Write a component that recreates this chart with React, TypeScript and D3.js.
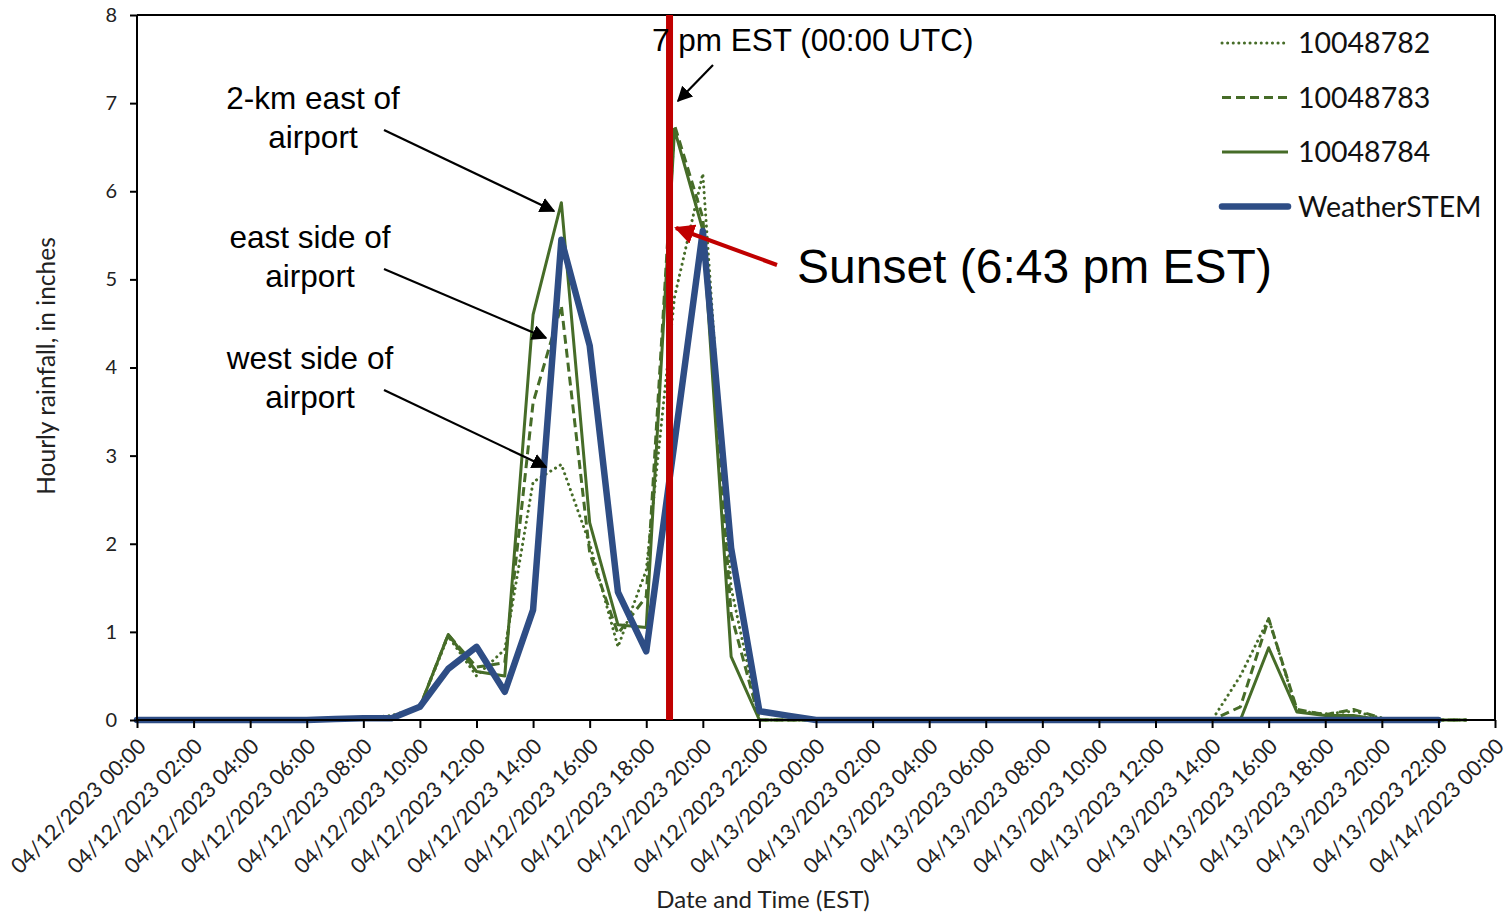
import React, { useEffect, useRef } from 'react';
import * as d3 from 'd3';

// hourly rainfall, 04/12/2023 00:00 EST onward (one value per hour)
const gauge10048782 = [
  0, 0, 0, 0, 0, 0, 0, 0.01, 0.02, 0.05, 0.15, 0.95, 0.5, 0.8, 2.7, 2.9, 2.0, 0.83, 1.7, 4.8, 6.2, 1.5, 0, 0,
  0, 0, 0, 0, 0, 0, 0, 0, 0, 0, 0, 0, 0, 0, 0, 0.5, 1.15, 0.1, 0.07, 0.1, 0.02, 0, 0, 0,
];
const gauge10048783 = [
  0, 0, 0, 0, 0, 0, 0, 0.01, 0.01, 0.03, 0.15, 0.97, 0.6, 0.65, 3.6, 4.7, 1.9, 0.98, 1.4, 6.75, 5.7, 1.2, 0, 0,
  0, 0, 0, 0, 0, 0, 0, 0, 0, 0, 0, 0, 0, 0, 0, 0.15, 1.15, 0.12, 0.06, 0.12, 0.02, 0, 0, 0,
];
const gauge10048784 = [
  0, 0, 0, 0, 0, 0, 0, 0.01, 0.01, 0.02, 0.15, 0.97, 0.55, 0.5, 4.6, 5.87, 2.24, 1.08, 1.05, 6.7, 5.56, 0.72, 0, 0,
  0, 0, 0, 0, 0, 0, 0, 0, 0, 0, 0, 0, 0, 0, 0, 0, 0.82, 0.09, 0.05, 0.05, 0, 0, 0, 0,
];
const weatherStem = [
  0, 0, 0, 0, 0, 0, 0, 0.01, 0.02, 0.02, 0.15, 0.58, 0.83, 0.32, 1.25, 5.45, 4.25, 1.45, 0.78, 3.15, 5.55, 1.95, 0.1, 0.05,
  0, 0, 0, 0, 0, 0, 0, 0, 0, 0, 0, 0, 0, 0, 0, 0, 0, 0, 0, 0, 0, 0, 0,
];

const yTicks = [0, 1, 2, 3, 4, 5, 6, 7, 8];
const seriesNames = ['10048782', '10048783', '10048784', 'WeatherSTEM'];

const start = new Date(Date.UTC(2023, 3, 12, 0));
const end = new Date(Date.UTC(2023, 3, 14, 0));
const sunset = new Date(Date.UTC(2023, 3, 12, 18, 43));

const App: React.FC = () => {
  const svgRef = useRef<SVGSVGElement>(null);

  useEffect(() => {
    if (!svgRef.current) return;
    const svg = d3.select(svgRef.current);
    svg.selectAll('*').remove();

    const width = 1511;
    const height = 914;
    const margin = { top: 15, right: 16, bottom: 194, left: 137 };

    const x = d3.scaleUtc().domain([start, end]).range([margin.left, width - margin.right]);
    const y = d3.scaleLinear().domain([0, 8]).range([height - margin.bottom, margin.top]);

    const green = '#466c28';
    const blue = '#2e4d85';
    const labelFont = 'Lato, "Open Sans", sans-serif';
    const noteFont = '"Liberation Sans", Arial, sans-serif';

    const hourTime = (i: number) => d3.utcHour.offset(start, i);

    // frame
    svg.append('line')
      .attr('x1', x(start)).attr('x2', x(end))
      .attr('y1', y(8)).attr('y2', y(8))
      .attr('stroke', '#000').attr('stroke-width', 2);
    svg.append('line')
      .attr('x1', x(end)).attr('x2', x(end))
      .attr('y1', y(8)).attr('y2', y(0))
      .attr('stroke', '#000').attr('stroke-width', 2);

    const line = d3.line<number>()
      .x((_, i) => x(hourTime(i)))
      .y(d => y(d));

    const series = [
      { data: gauge10048782, color: green, width: 3, dash: '0.1,5.5', cap: 'round' },
      { data: gauge10048783, color: green, width: 3, dash: '9,5', cap: 'butt' },
      { data: gauge10048784, color: green, width: 3, dash: null, cap: 'butt' },
      { data: weatherStem, color: blue, width: 6.5, dash: null, cap: 'round' },
    ];

    series.forEach(s => {
      svg.append('path')
        .datum(s.data)
        .attr('fill', 'none')
        .attr('stroke', s.color)
        .attr('stroke-width', s.width)
        .attr('stroke-dasharray', s.dash)
        .attr('stroke-linecap', s.cap)
        .attr('stroke-linejoin', 'round')
        .attr('d', line);
    });

    // axes
    const xAxis = svg.append('g')
      .attr('transform', `translate(0,${y(0)})`)
      .call(d3.axisBottom(x)
        .ticks(d3.utcHour.every(2))
        .tickSize(8)
        .tickFormat(d => d3.utcFormat('%m/%d/%Y %H:%M')(d as Date)));
    xAxis.select('.domain').attr('stroke-width', 2).attr('d', `M${x(start)},0H${x(end)}`);
    xAxis.selectAll('.tick line').attr('stroke-width', 2);
    xAxis.selectAll('.tick text')
      .attr('font-family', labelFont)
      .attr('font-size', 21.5)
      .attr('fill', '#222')
      .attr('text-anchor', 'end')
      .attr('dx', 0)
      .attr('dy', 0)
      .attr('transform', 'translate(2,20) rotate(-45)');

    const yAxis = svg.append('g')
      .attr('transform', `translate(${margin.left},0)`)
      .call(d3.axisLeft(y).tickValues(yTicks).tickSize(7).tickFormat(d3.format('d')));
    yAxis.select('.domain').attr('stroke-width', 2).attr('d', `M0,${y(8)}V${y(0)}`);
    yAxis.selectAll('.tick line').attr('stroke-width', 2);
    yAxis.selectAll('.tick text')
      .attr('font-family', labelFont)
      .attr('font-size', 20)
      .attr('fill', '#222')
      .attr('x', -20);

    // axis titles
    svg.append('text')
      .attr('x', 763)
      .attr('y', 908)
      .attr('text-anchor', 'middle')
      .attr('font-family', labelFont)
      .attr('font-size', 24)
      .attr('fill', '#222')
      .text('Date and Time (EST)');
    svg.append('text')
      .attr('transform', `translate(55,366) rotate(-90)`)
      .attr('text-anchor', 'middle')
      .attr('font-family', labelFont)
      .attr('font-size', 24.5)
      .attr('fill', '#222')
      .text('Hourly rainfall, in inches');

    // sunset line
    svg.append('line')
      .attr('x1', x(sunset) + 3).attr('x2', x(sunset) + 3)
      .attr('y1', y(8)).attr('y2', y(0))
      .attr('stroke', '#c00000')
      .attr('stroke-width', 7);

    // arrow markers
    const defs = svg.append('defs');
    [['arrowBlack', '#000', 7], ['arrowRed', '#c00000', 5]].forEach(([id, c, sz]) => {
      defs.append('marker')
        .attr('id', id as string)
        .attr('viewBox', '0 0 10 10')
        .attr('refX', 9).attr('refY', 5)
        .attr('markerWidth', sz as number)
        .attr('markerHeight', sz as number)
        .attr('orient', 'auto')
        .append('path')
        .attr('d', 'M0,0 L10,5 L0,10 z')
        .attr('fill', c as string);
    });

    const arrow = (x1: number, y1: number, x2: number, y2: number, id: string, w: number, c: string) =>
      svg.append('line')
        .attr('x1', x1).attr('y1', y1).attr('x2', x2).attr('y2', y2)
        .attr('stroke', c).attr('stroke-width', w)
        .attr('marker-end', `url(#${id})`);

    // gauge annotations
    const notes = [
      { lines: ['2-km east of', 'airport'], cx: 313, top: 98, to: [554, 211] },
      { lines: ['east side of', 'airport'], cx: 310, top: 237, to: [546, 338] },
      { lines: ['west side of', 'airport'], cx: 310, top: 358, to: [546, 467] },
    ];
    notes.forEach(n => {
      n.lines.forEach((t, i) => {
        svg.append('text')
          .attr('x', n.cx).attr('y', n.top + i * 39 + 11)
          .attr('text-anchor', 'middle')
          .attr('font-family', noteFont)
          .attr('font-size', 31.5)
          .attr('fill', '#000')
          .text(t);
      });
      arrow(384, n.top + 32, n.to[0], n.to[1], 'arrowBlack', 2.2, '#000');
    });

    svg.append('text')
      .attr('x', 652).attr('y', 51)
      .attr('font-family', noteFont)
      .attr('font-size', 31.5)
      .attr('fill', '#000')
      .text('7 pm EST (00:00 UTC)');
    arrow(713, 65, 678, 101, 'arrowBlack', 2.2, '#000');

    svg.append('text')
      .attr('x', 797).attr('y', 283)
      .attr('font-family', noteFont)
      .attr('font-size', 48)
      .attr('fill', '#000')
      .text('Sunset (6:43 pm EST)');
    arrow(777, 265, 676, 228, 'arrowRed', 4, '#c00000');

    // legend
    const legend = svg.append('g');
    series.forEach((s, i) => {
      const ly = 43 + i * 54.5;
      legend.append('line')
        .attr('x1', 1222).attr('x2', 1288)
        .attr('y1', ly).attr('y2', ly)
        .attr('stroke', s.color)
        .attr('stroke-width', s.width)
        .attr('stroke-dasharray', s.dash)
        .attr('stroke-linecap', s.cap);
      legend.append('text')
        .attr('x', 1298).attr('y', ly + 10)
        .attr('font-family', labelFont)
        .attr('font-size', 28.5)
        .attr('fill', '#111')
        .text(seriesNames[i]);
    });
  }, []);

  return (
    <svg
      ref={svgRef}
      width={1511}
      height={914}
      style={{ position: 'absolute', left: 0, top: 0, background: '#fff' }}
    />
  );
};

export default App;
